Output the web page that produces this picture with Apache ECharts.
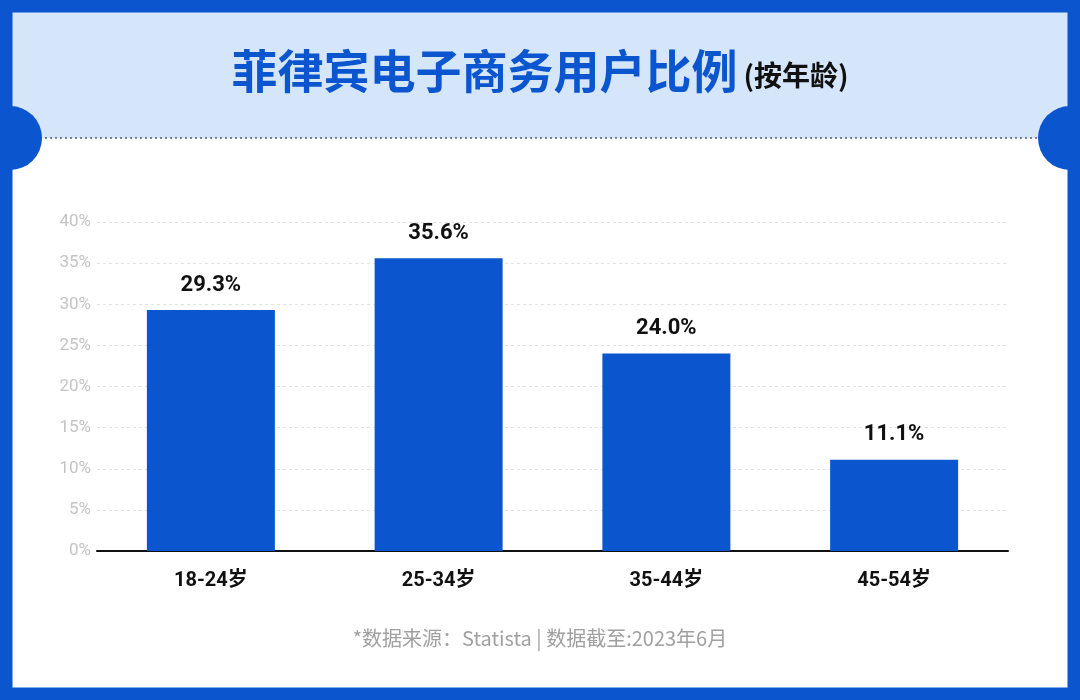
<!DOCTYPE html>
<html>
<head>
<meta charset="utf-8">
<script src="https://cdn.jsdelivr.net/npm/echarts@6/dist/echarts.min.js"></script>
<style>
  html, body { margin: 0; padding: 0; background: #fff; }
  #chart { width: 1080px; height: 700px; }
</style>
</head>
<body>
<div id="chart"></div>
<script>
var categories = ["18-24岁", "25-34岁", "35-44岁", "45-54岁"];
var shares = [29.3, 35.6, 24.0, 11.1];
var blue = "#0b55cf";

var chart = echarts.init(document.getElementById("chart"));

var option = {
  backgroundColor: "#fff",
  textStyle: { fontFamily: "Roboto, 'Noto Sans CJK SC', sans-serif" },
  graphic: [
    // header band
    { type: "rect", z: 0, shape: { x: 0, y: 0, width: 1080, height: 138 }, style: { fill: "#d5e6fb" } },
    { type: "line", z: 1, shape: { x1: 40, y1: 138, x2: 1040, y2: 138 }, style: { stroke: "#4a5a80", lineWidth: 1.5, lineDash: [2, 3] } },
    // outer border
    { type: "rect", z: 5, shape: { x: 6, y: 6, width: 1068, height: 688 }, style: { fill: "none", stroke: blue, lineWidth: 13 } },
    { type: "circle", z: 6, shape: { cx: 10, cy: 138, r: 32 }, style: { fill: blue } },
    { type: "circle", z: 6, shape: { cx: 1070, cy: 138, r: 32 }, style: { fill: blue } },
    {
      type: "text", z: 7, left: "center", top: 48,
      style: {
        text: "{a|菲律宾电子商务用户比例}{b|(按年龄)}",
        rich: {
          a: { fontSize: 46, fontWeight: "bold", fill: "#0b55cf", fontFamily: "'Noto Sans CJK SC', sans-serif" },
          b: { fontSize: 28, fontWeight: "bold", fill: "#111", fontFamily: "'Noto Sans CJK SC', sans-serif", padding: [8, 0, 0, 6] }
        }
      }
    },
    {
      type: "text", z: 7, left: "center", top: 628,
      style: { text: "*数据来源：Statista | 数据截至:2023年6月", fontSize: 20, fill: "#a0a0a0", fontFamily: "'Noto Sans CJK SC', sans-serif" }
    }
  ],
  grid: { left: 97, right: 72, top: 222, bottom: 149 },
  xAxis: {
    type: "category",
    data: categories,
    axisLine: { lineStyle: { color: "#111", width: 2 } },
    axisTick: { show: false },
    axisLabel: { color: "#111", fontSize: 20, fontWeight: "bold", margin: 20, fontFamily: "Roboto, 'Noto Sans CJK SC', sans-serif" }
  },
  yAxis: {
    type: "value",
    min: 0, max: 40, interval: 5,
    axisLabel: { formatter: "{value}%", color: "#c4c4c4", fontSize: 17, margin: 6 },
    axisLine: { show: false },
    axisTick: { show: false },
    splitLine: { lineStyle: { color: "#e2e2e2", type: [3, 3] } }
  },
  series: [{
    type: "bar",
    data: shares,
    barWidth: 128,
    itemStyle: { color: blue },
    label: {
      show: true, position: "top", distance: 14,
      formatter: function (p) { return p.value.toFixed(1) + "%"; },
      color: "#111", fontSize: 22, fontWeight: "bold"
    }
  }]
};

chart.setOption(option);
</script>
</body>
</html>
